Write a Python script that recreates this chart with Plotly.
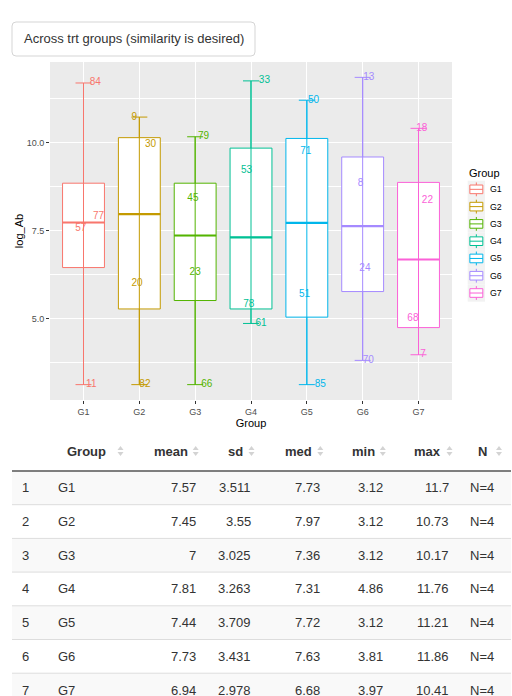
import numpy as np
import plotly.graph_objects as go

# ---------------- data ----------------
groups = ["G1", "G2", "G3", "G4", "G5", "G6", "G7"]
colors = ["#F8766D", "#C49A00", "#53B400", "#00C094", "#00B6EB", "#A58AFF", "#FB61D7"]

# log_Ab observations per group (4 subjects each), and the subject ids used as labels
log_ab = [
    [3.12, 7.56, 7.90, 11.70],
    [3.12, 5.99, 9.95, 10.73],
    [3.12, 6.31, 8.41, 10.17],
    [4.86, 5.41, 9.21, 11.76],
    [3.12, 5.68, 9.76, 11.21],
    [3.81, 6.42, 8.84, 11.86],
    [3.97, 5.00, 8.36, 10.41],
]
subject_id = [
    [11, 57, 77, 84],
    [82, 20, 30, 9],
    [66, 23, 45, 79],
    [61, 78, 53, 33],
    [85, 51, 71, 50],
    [70, 24, 8, 13],
    [7, 68, 22, 18],
]
# horizontal jitter of the id labels (in category units)
label_jitter = [
    [0.14, -0.05, 0.27, 0.21],
    [0.10, -0.04, 0.20, -0.09],
    [0.21, 0.00, -0.04, 0.15],
    [0.18, -0.04, -0.08, 0.24],
    [0.24, -0.04, -0.02, 0.12],
    [0.10, 0.04, -0.04, 0.11],
    [0.08, -0.10, 0.16, 0.06],
]

# summary table
tbl_index = ["1", "2", "3", "4", "5", "6", "7"]
tbl_group = groups
tbl_mean = ["7.57", "7.45", "7", "7.81", "7.44", "7.73", "6.94"]
tbl_sd = ["3.511", "3.55", "3.025", "3.263", "3.709", "3.431", "2.978"]
tbl_med = ["7.73", "7.97", "7.36", "7.31", "7.72", "7.63", "6.68"]
tbl_min = ["3.12", "3.12", "3.12", "4.86", "3.12", "3.81", "3.97"]
tbl_max = ["11.7", "10.73", "10.17", "11.76", "11.21", "11.86", "10.41"]
tbl_n = ["N=4"] * 7
tbl_header = ["", "Group", "mean", "sd", "med", "min", "max", "N"]

button_text = "Across trt groups (similarity is desired)"

# ---------------- layout helpers ----------------
W, H = 512, 696
FONT = "Liberation Sans, Arial, sans-serif"


def fx(x):
    return x / W


def fy(y):
    return 1 - y / H


fig = go.Figure()

# ---------------- boxplot ----------------
all_vals = np.concatenate([np.array(v) for v in log_ab])
span = all_vals.max() - all_vals.min()
y_range = [all_vals.min() - 0.05 * span, all_vals.max() + 0.05 * span]

for i, g in enumerate(groups):
    v = np.array(log_ab[i])
    q1, med, q3 = np.percentile(v, [25, 50, 75])
    pos = i + 1
    fig.add_trace(go.Box(
        x=[pos], q1=[q1], median=[med], q3=[q3],
        lowerfence=[v.min()], upperfence=[v.max()],
        orientation="v", width=0.75, whiskerwidth=0,
        line=dict(color=colors[i], width=1), fillcolor="white",
        boxpoints=False, showlegend=False, hoverinfo="skip", name=g,
    ))

for i, g in enumerate(groups):
    v = np.array(log_ab[i])
    med = np.percentile(v, 50)
    pos = i + 1
    # thick median line
    fig.add_trace(go.Scatter(
        x=[pos], y=[med], mode="markers", marker=dict(opacity=0, size=1),
        error_x=dict(type="data", array=[0.375], symmetric=True, width=0,
                     thickness=2.1, color=colors[i]),
        showlegend=False, hoverinfo="skip",
    ))

for i, g in enumerate(groups):
    v = np.array(log_ab[i])
    pos = i + 1
    mid = (v.min() + v.max()) / 2
    # errorbar whiskers (min..max) drawn over the box
    fig.add_trace(go.Scatter(
        x=[pos], y=[mid], mode="markers", marker=dict(opacity=0, size=1),
        error_y=dict(type="data", array=[(v.max() - v.min()) / 2], symmetric=True,
                     width=8, thickness=1, color=colors[i]),
        showlegend=False, hoverinfo="skip",
    ))

for i, g in enumerate(groups):
    pos = i + 1
    fig.add_trace(go.Scatter(
        x=[pos + j for j in label_jitter[i]], y=log_ab[i], mode="text",
        text=[str(s) for s in subject_id[i]], textposition="middle center",
        textfont=dict(size=10, color=colors[i], family=FONT),
        showlegend=False, hoverinfo="skip", cliponaxis=False,
    ))

shapes = []
annotations = []

# ---------------- legend (ggplot style) ----------------
key = 17.28
kx0, ky0 = 467.7, 180.7
annotations.append(dict(x=fx(468), y=fy(173), xref="paper", yref="paper", text="Group",
                        showarrow=False, xanchor="left", yanchor="middle",
                        font=dict(size=11, color="black", family=FONT), borderpad=0))
for i, g in enumerate(groups):
    t = ky0 + i * key
    cx = kx0 + key / 2
    shapes.append(dict(type="rect", xref="paper", yref="paper",
                       x0=fx(kx0), x1=fx(kx0 + key), y0=fy(t), y1=fy(t + key),
                       fillcolor="#F2F2F2", line=dict(width=0), layer="above"))
    lc = dict(color=colors[i], width=1)
    shapes.append(dict(type="line", xref="paper", yref="paper", x0=fx(cx), x1=fx(cx),
                       y0=fy(t + 0.1 * key), y1=fy(t + 0.25 * key), line=lc, layer="above"))
    shapes.append(dict(type="line", xref="paper", yref="paper", x0=fx(cx), x1=fx(cx),
                       y0=fy(t + 0.75 * key), y1=fy(t + 0.9 * key), line=lc, layer="above"))
    shapes.append(dict(type="rect", xref="paper", yref="paper",
                       x0=fx(kx0 + 0.125 * key), x1=fx(kx0 + 0.875 * key),
                       y0=fy(t + 0.25 * key), y1=fy(t + 0.75 * key),
                       fillcolor="white", line=lc, layer="above"))
    shapes.append(dict(type="line", xref="paper", yref="paper",
                       x0=fx(kx0 + 0.125 * key), x1=fx(kx0 + 0.875 * key),
                       y0=fy(t + 0.5 * key), y1=fy(t + 0.5 * key), line=lc, layer="above"))
    annotations.append(dict(x=fx(489.3), y=fy(t + key / 2), xref="paper", yref="paper",
                            text=g, showarrow=False, xanchor="left", yanchor="middle",
                            font=dict(size=8.8, color="black", family=FONT), borderpad=0))

# ---------------- button ----------------
bx0, bx1, by0, by1, r = 12, 255, 22, 56, 4
path = (f"M {fx(bx0 + r)},{fy(by0)} L {fx(bx1 - r)},{fy(by0)} Q {fx(bx1)},{fy(by0)} {fx(bx1)},{fy(by0 + r)} "
        f"L {fx(bx1)},{fy(by1 - r)} Q {fx(bx1)},{fy(by1)} {fx(bx1 - r)},{fy(by1)} "
        f"L {fx(bx0 + r)},{fy(by1)} Q {fx(bx0)},{fy(by1)} {fx(bx0)},{fy(by1 - r)} "
        f"L {fx(bx0)},{fy(by0 + r)} Q {fx(bx0)},{fy(by0)} {fx(bx0 + r)},{fy(by0)} Z")
shapes.append(dict(type="path", xref="paper", yref="paper", path=path,
                   fillcolor="white", line=dict(color="#D5D5D5", width=1)))
annotations.append(dict(x=fx((bx0 + bx1) / 2), y=fy((by0 + by1) / 2), xref="paper", yref="paper",
                        text=button_text, showarrow=False, xanchor="center", yanchor="middle",
                        font=dict(size=13, color="#333333", family=FONT), borderpad=0))

# ---------------- table ----------------
tx0, tx1 = 12, 511
header_y = 451
header_line = 471
row_h = 33.7
columns = [tbl_index, tbl_group, tbl_mean, tbl_sd, tbl_med, tbl_min, tbl_max, tbl_n]
body_anchor = [(21, "left"), (57, "left"), (196.7, "right"), (252, "right"), (321, "right"),
               (383.5, "right"), (450, "right"), (469, "left")]
head_anchor = [(29, "left"), (66, "left"), (188.7, "right"), (244, "right"), (313, "right"),
               (375.5, "right"), (442, "right"), (477, "left")]
arrow_x = [None, 120.5, 195.7, 251.5, 320.3, 382.8, 449.5, 499]

for r_i in range(len(tbl_index)):
    top = header_line + r_i * row_h
    if r_i % 2 == 0:
        shapes.append(dict(type="rect", xref="paper", yref="paper", x0=fx(tx0), x1=fx(tx1),
                           y0=fy(top), y1=fy(top + row_h), fillcolor="#F9F9F9",
                           line=dict(width=0), layer="below"))
    if r_i > 0:
        shapes.append(dict(type="line", xref="paper", yref="paper", x0=fx(tx0), x1=fx(tx1),
                           y0=fy(top), y1=fy(top), line=dict(color="#DDDDDD", width=1),
                           layer="below"))
shapes.append(dict(type="line", xref="paper", yref="paper", x0=fx(tx0), x1=fx(tx1),
                   y0=fy(header_line), y1=fy(header_line), line=dict(color="#555555", width=1.5)))

for c_i, col in enumerate(columns):
    hx, ha = head_anchor[c_i]
    if tbl_header[c_i]:
        annotations.append(dict(x=fx(hx), y=fy(header_y), xref="paper", yref="paper",
                                text="<b>" + tbl_header[c_i] + "</b>", showarrow=False,
                                xanchor=ha, yanchor="middle", borderpad=0,
                                font=dict(size=13, color="#333333", family=FONT)))
    if arrow_x[c_i] is not None:
        ax = arrow_x[c_i]
        up = (f"M {fx(ax - 3)},{fy(header_y - 1)} L {fx(ax + 3)},{fy(header_y - 1)} "
              f"L {fx(ax)},{fy(header_y - 5)} Z")
        dn = (f"M {fx(ax - 3)},{fy(header_y + 1)} L {fx(ax + 3)},{fy(header_y + 1)} "
              f"L {fx(ax)},{fy(header_y + 5)} Z")
        for p in (up, dn):
            shapes.append(dict(type="path", xref="paper", yref="paper", path=p,
                               fillcolor="#D3D3D3", line=dict(width=0)))
    bx, ba = body_anchor[c_i]
    for r_i, val in enumerate(col):
        cy = header_line + r_i * row_h + row_h / 2
        annotations.append(dict(x=fx(bx), y=fy(cy), xref="paper", yref="paper",
                                text=val, showarrow=False, xanchor=ba, yanchor="middle",
                                borderpad=0, font=dict(size=13, color="#333333", family=FONT)))

fig.update_layout(
    width=W, height=H, margin=dict(l=0, r=0, t=0, b=0),
    paper_bgcolor="white", plot_bgcolor="#EBEBEB",
    boxmode="overlay", showlegend=False,
    font=dict(family=FONT),
    xaxis=dict(domain=[fx(50), fx(452)], range=[0.4, 7.6],
               tickvals=list(range(1, len(groups) + 1)), ticktext=groups,
               showgrid=True, gridcolor="white", gridwidth=1.07, zeroline=False,
               ticks="outside", ticklen=3, tickcolor="#333333", tickwidth=1,
               tickfont=dict(size=9, color="#4D4D4D", family=FONT),
               title=dict(text="Group", font=dict(size=11, color="black", family=FONT), standoff=3),
               fixedrange=True),
    yaxis=dict(domain=[fy(400), fy(62)], range=y_range,
               tick0=0, dtick=2.5, tickformat=".1f",
               showgrid=True, gridcolor="white", gridwidth=1.07, zeroline=False,
               ticks="outside", ticklen=3, tickcolor="#333333", tickwidth=1,
               tickfont=dict(size=9, color="#4D4D4D", family=FONT),
               minor=dict(tick0=0, dtick=1.25, showgrid=True, gridcolor="white", gridwidth=0.5),
               title=dict(text="log_Ab", font=dict(size=11, color="black", family=FONT), standoff=0),
               fixedrange=True),
    shapes=shapes, annotations=annotations,
)

fig.write_html("out.html", config={"displayModeBar": False},
               post_script="document.body.style.margin='0px';document.body.style.overflow='hidden';")
